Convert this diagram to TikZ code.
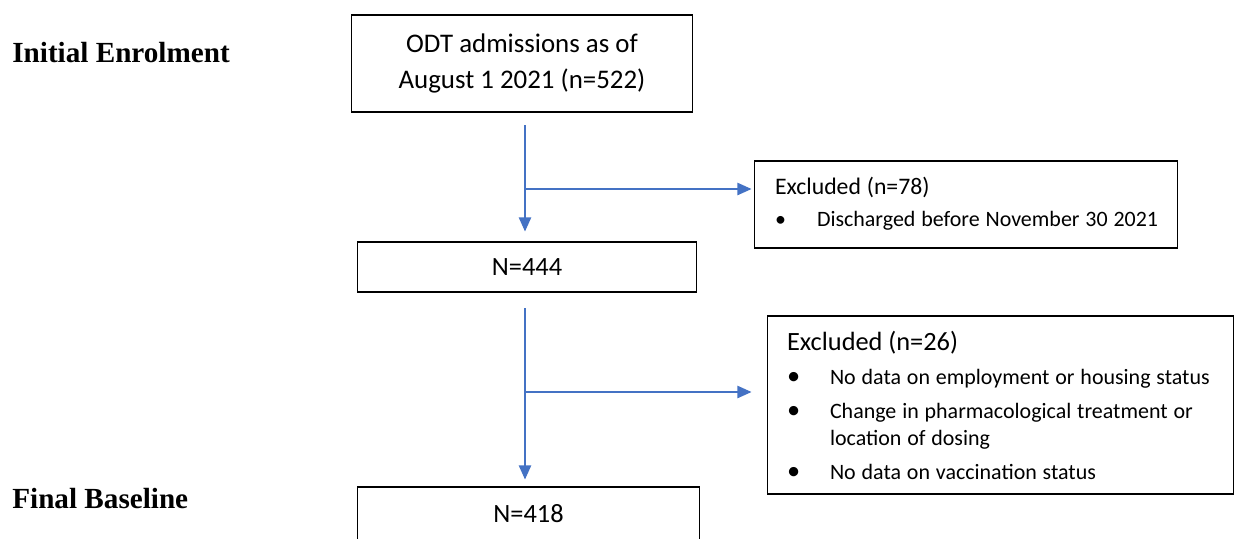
\documentclass[tikz,border=0pt]{standalone}
\usepackage{fontspec}
\usepackage{array}
\setmainfont{Carlito}
\newfontfamily\baslikFont{Liberation Serif}
\usetikzlibrary{arrows.meta,calc}
\definecolor{akisMavi}{HTML}{4472C4}
\newcommand{\maddeYazi}{\fontsize{12.5}{15.4}\selectfont}

\begin{document}
\begin{tikzpicture}[x=0.02cm,y=-0.02cm,
    kutu/.style={draw=black,line width=0.6pt,inner sep=0pt},
    ok/.style={draw=akisMavi,line width=0.75pt,-{Triangle[length=8pt,width=7pt,fill=akisMavi]}},
    evre/.style={anchor=west,inner sep=0pt,font=\baslikFont\bfseries\fontsize{16.6}{20}\selectfont}]
\useasboundingbox (0,0) rectangle (1235,538);
% stage labels
\node[evre] (lblInitial) at (12,53) {Initial Enrolment};
\node[evre] (lblFinal) at (12,499) {Final Baseline};
% main boxes
\node[kutu,minimum width=6.84cm,minimum height=1.94cm,align=center,
  font=\fontsize{15.3}{20.5}\selectfont] (admit) at (522,63.5)
  {ODT admissions as of\\August 1 2021 (n=522)};
\node[kutu,minimum width=6.8cm,minimum height=1cm,font=\fontsize{15}{18}\selectfont] (n444) at (527,267) {N=444};
\node[kutu,minimum width=6.86cm,minimum height=1.08cm,font=\fontsize{15}{18}\selectfont] (n418) at (528.5,514) {N=418};
% exclusion boxes
\node[kutu,minimum width=8.48cm,minimum height=1.74cm,inner xsep=0.42cm,text width=7.64cm] (excl1) at (966,204.5)
  {\fontsize{13.5}{16}\selectfont
   \begin{tabular}{@{}p{0.84cm}@{}l@{}}
   \multicolumn{2}{@{}l@{}}{Excluded (n=78)}\\[2.2pt]
   {\fontsize{12.5}{15}\selectfont\textbullet} & {\fontsize{12.5}{15}\selectfont Discharged before November 30 2021}
   \end{tabular}};
\node[kutu,minimum width=9.34cm,minimum height=3.56cm,inner xsep=0.4cm,text width=8.54cm] (excl2) at (1000.5,405)
  {\fontsize{15}{15.4}\selectfont
   \begin{tabular}{@{}p{0.86cm}@{}>{\maddeYazi}l@{}}
   \multicolumn{2}{@{}l@{}}{\rule{0pt}{15.8pt}Excluded (n=26)}\\[4pt]
   \textbullet & No data on employment or housing status\\[3.9pt]
   \textbullet & Change in pharmacological treatment or\\
               & location of dosing\\[3.9pt]
   \textbullet & No data on vaccination status
   \end{tabular}};
% flow arrows
\coordinate (bas1) at (525,125);
\coordinate (kol1) at (525,189);
\coordinate (bas2) at (525,308);
\coordinate (kol2) at (525,392);
\draw[ok,shorten >=0.2cm] (bas1) -- (bas1 |- n444.north);
\draw[ok,shorten >=0.04cm] (kol1) -- (kol1 -| excl1.west);
\draw[ok,shorten >=0.14cm] (bas2) -- (bas2 |- n418.north);
\draw[ok,shorten >=0.3cm] (kol2) -- (kol2 -| excl2.west);
\end{tikzpicture}
\end{document}
